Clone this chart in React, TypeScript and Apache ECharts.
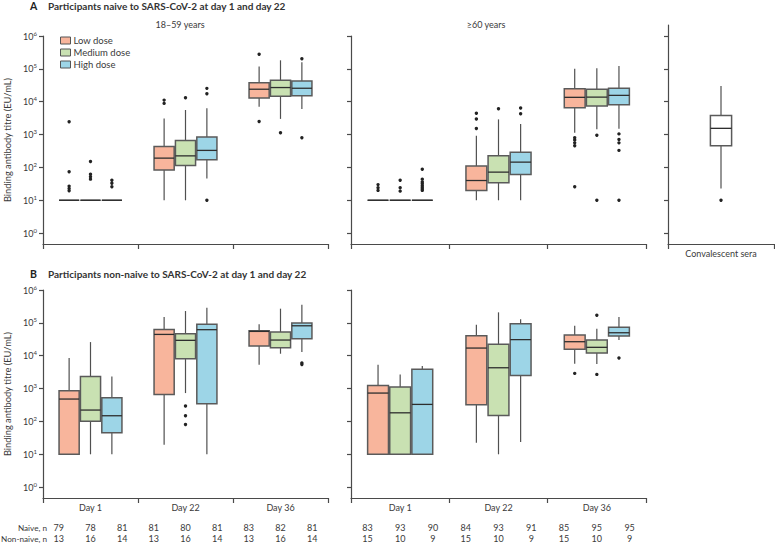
import React, { useEffect, useRef } from 'react';
import * as echarts from 'echarts';

const days = ['Day 1', 'Day 22', 'Day 36'];
const doses = ['Low dose', 'Medium dose', 'High dose'];
const doseColors = ['#F8B59C', '#C9E1B2', '#9DD5E7'];
const decadeTicks = [1, 10, 100, 1000, 10000, 100000, 1000000];

// [min, Q1, median, Q3, max] per day — naive, 18–59 years
const naiveYoungLow = [[10, 10, 10, 10, 10], [10, 83, 192, 437, 3100], [7000, 12900, 24000, 38000, 117000]];
const naiveYoungMedium = [[10, 10, 10, 10, 10], [10, 115, 225, 665, 5600], [3000, 14600, 27000, 45000, 182000]];
const naiveYoungHigh = [[10, 10, 10, 10, 10], [46, 170, 330, 840, 6300], [6000, 15200, 25700, 42500, 158000]];
const naiveYoungLowOut = [[2450, 74, 27, 23, 19.5], [11200, 8900], [277000, 2500]];
const naiveYoungMediumOut = [[152, 62, 52, 44], [13200], [1140]];
const naiveYoungHighOut = [[41, 33, 26], [25500, 17500, 10], [204000, 800]];

// naive, ≥60 years
const naiveOldLow = [[10, 10, 10, 10, 10], [10, 20, 40, 110, 920], [1140, 6600, 13600, 25000, 100000]];
const naiveOldMedium = [[10, 10, 10, 10, 10], [10, 34, 72, 225, 2900], [1440, 7400, 13800, 24000, 105000]];
const naiveOldHigh = [[10, 10, 10, 10, 10], [10, 61, 145, 288, 2090], [1500, 8100, 15600, 25700, 123000]];
const naiveOldLowOut = [[30, 24, 20], [4450, 2960, 1540], [800, 680, 560, 455, 26]];
const naiveOldMediumOut = [[41, 24, 19], [6100], [950, 10]];
const naiveOldHighOut = [[88, 44, 36, 32, 28, 25, 22, 20], [6400, 4300], [1050, 710, 560, 330, 10]];

// convalescent sera
const convalescentCategories = ['Convalescent sera'];
const convalescent = [[23, 455, 1550, 3830, 30000]];
const convalescentOut = [[10]];

// non-naive, 18–59 years
const nonNaiveYoungLow = [[10, 10, 480, 855, 8500], [19.5, 665, 44500, 63000, 150000], [5350, 19600, 55000, 57700, 90000]];
const nonNaiveYoungMedium = [[10, 102, 222, 2350, 26000], [730, 8100, 29400, 47000, 229000], [11500, 17500, 30000, 52600, 270000]];
const nonNaiveYoungHigh = [[10, 45, 149, 525, 2350], [10, 345, 62000, 90000, 290000], [13000, 33000, 81500, 99000, 357000]];
const nonNaiveYoungLowOut = [[], [], []];
const nonNaiveYoungMediumOut = [[], [295, 149, 81], []];
const nonNaiveYoungHighOut = [[], [], [6000, 5400]];

// non-naive, ≥60 years
const nonNaiveOldLow = [[10, 10, 730, 1250, 5300], [22.5, 324, 17100, 40700, 88000], [5700, 15600, 26700, 42700, 81500]];
const nonNaiveOldMedium = [[10, 10, 183, 1110, 2700], [10, 152, 4300, 22200, 209000], [5600, 12000, 18000, 30000, 66000]];
const nonNaiveOldHigh = [[10, 10, 330, 3900, 4850], [23.5, 2520, 30900, 94500, 128000], [30000, 39700, 50000, 73000, 150000]];
const nonNaiveOldLowOut = [[], [], [2900]];
const nonNaiveOldMediumOut = [[], [], [170000, 2700]];
const nonNaiveOldHighOut = [[], [], [8500]];

// participant counts under panel B
const youngNaiveN = [79, 78, 81, 81, 80, 81, 83, 82, 81];
const youngNonNaiveN = [13, 16, 14, 13, 16, 14, 13, 16, 14];
const oldNaiveN = [83, 93, 90, 84, 93, 91, 85, 95, 95];
const oldNonNaiveN = [15, 10, 9, 15, 10, 9, 15, 10, 9];

const FONT = 'Lato, "Noto Sans", sans-serif';
const AXIS_COLOR = '#4a4a4a';
const TEXT_COLOR = '#3a3a3a';

const panels = [
  { boxes: [naiveYoungLow, naiveYoungMedium, naiveYoungHigh], outs: [naiveYoungLowOut, naiveYoungMediumOut, naiveYoungHighOut] },
  { boxes: [naiveOldLow, naiveOldMedium, naiveOldHigh], outs: [naiveOldLowOut, naiveOldMediumOut, naiveOldHighOut] },
  null,
  { boxes: [nonNaiveYoungLow, nonNaiveYoungMedium, nonNaiveYoungHigh], outs: [nonNaiveYoungLowOut, nonNaiveYoungMediumOut, nonNaiveYoungHighOut] },
  { boxes: [nonNaiveOldLow, nonNaiveOldMedium, nonNaiveOldHigh], outs: [nonNaiveOldLowOut, nonNaiveOldMediumOut, nonNaiveOldHighOut] },
];

function makeBoxSeries(name: string, axisIdx: number, offsetFrac: number, widthFrac: number, fill: string, stats: number[][]) {
  return {
    type: 'custom',
    name,
    xAxisIndex: axisIdx,
    yAxisIndex: axisIdx,
    data: stats.map((s, i) => [i, ...s]),
    encode: { x: 0, y: [1, 2, 3, 4, 5] },
    itemStyle: { color: fill },
    z: 2,
    renderItem: (params: any, api: any) => {
      const cat = api.value(0);
      const band = api.size([1, 0], [cat, 10])[0];
      const cx = api.coord([cat, 10])[0] + offsetFrac * band;
      const w = widthFrac * band;
      const yMin = api.coord([cat, api.value(1)])[1];
      const yQ1 = api.coord([cat, api.value(2)])[1];
      const yMed = api.coord([cat, api.value(3)])[1];
      const yQ3 = api.coord([cat, api.value(4)])[1];
      const yMax = api.coord([cat, api.value(5)])[1];
      const whisker = { stroke: '#505050', lineWidth: 1.2 };
      return {
        type: 'group',
        children: [
          { type: 'line', shape: { x1: cx, y1: yMin, x2: cx, y2: yQ1 }, style: whisker },
          { type: 'line', shape: { x1: cx, y1: yQ3, x2: cx, y2: yMax }, style: whisker },
          {
            type: 'rect',
            shape: { x: cx - w / 2, y: yQ3, width: w, height: Math.max(yQ1 - yQ3, 0) },
            style: { fill, stroke: '#5a5a5a', lineWidth: 1.5 },
          },
          { type: 'line', shape: { x1: cx - w / 2, y1: yMed, x2: cx + w / 2, y2: yMed }, style: { stroke: '#2e2e2e', lineWidth: 1.3 } },
        ],
      };
    },
  };
}

function makeOutlierSeries(name: string, axisIdx: number, offsetFrac: number, outs: number[][]) {
  const data: number[][] = [];
  outs.forEach((vals, i) => vals.forEach((v) => data.push([i, v])));
  return {
    type: 'custom',
    name,
    xAxisIndex: axisIdx,
    yAxisIndex: axisIdx,
    data,
    encode: { x: 0, y: 1 },
    z: 3,
    renderItem: (params: any, api: any) => {
      const cat = api.value(0);
      const band = api.size([1, 0], [cat, 10])[0];
      const p = api.coord([cat, api.value(1)]);
      return { type: 'circle', shape: { cx: p[0] + offsetFrac * band, cy: p[1], r: 1.7 }, style: { fill: '#222' } };
    },
  };
}

export default function App() {
  const ref = useRef<HTMLDivElement>(null);

  useEffect(() => {
    if (!ref.current) return;
    const chart = echarts.init(ref.current, undefined, { renderer: 'svg' });

    const grids = [
      { left: 43, top: 36, width: 285, height: 208 },
      { left: 351, top: 36, width: 295, height: 208 },
      { left: 668, top: 25, width: 106, height: 219 },
      { left: 43, top: 290, width: 285, height: 208 },
      { left: 351, top: 290, width: 295, height: 208 },
    ];
    const yMin = Math.pow(10, -0.33);
    const yMaxMain = 1e6;
    const yMaxConv = Math.pow(10, 6.335);

    const axisLine = { show: true, lineStyle: { color: AXIS_COLOR, width: 1.2 } };
    const axisTickStyle = { show: true, inside: false, length: 4, lineStyle: { color: AXIS_COLOR, width: 1.2 } };

    const yAxes = grids.map((g, i) => ({
      type: 'log',
      logBase: 10,
      gridIndex: i,
      min: yMin,
      max: i === 2 ? yMaxConv : yMaxMain,
      axisLine,
      axisTick: { ...axisTickStyle, customValues: decadeTicks },
      splitLine: { show: false },
      axisLabel: {
        show: i === 0 || i === 3,
        customValues: decadeTicks,
        margin: 6,
        color: TEXT_COLOR,
        fontFamily: FONT,
        fontSize: 9,
        formatter: (v: number) => `10{s|${Math.round(Math.log10(v))}}`,
        rich: {
          s: { fontSize: 6, fontFamily: FONT, color: TEXT_COLOR, verticalAlign: 'top', padding: [0, 0, 6, 0] },
        },
      },
      name: i === 0 || i === 3 ? 'Binding antibody titre (EU/mL)' : '',
      nameLocation: 'middle',
      nameGap: 31,
      nameTextStyle: { fontFamily: FONT, fontSize: 9.3, color: TEXT_COLOR },
    }));

    const catLabel = { color: TEXT_COLOR, fontFamily: FONT, fontSize: 9 };
    const xAxes: any[] = grids.map((g, i) => ({
      type: 'category',
      gridIndex: i,
      position: 'bottom',
      data: i === 2 ? convalescentCategories : days,
      boundaryGap: true,
      axisLine,
      axisTick: { ...axisTickStyle, length: 5, alignWithLabel: false, interval: 0 },
      axisLabel: { show: i >= 2, margin: 5, interval: 0, ...catLabel },
      splitLine: { show: false },
    }));
    const countAxis = (gridIndex: number, naive: number[], nonNaive: number[]) => ({
      type: 'category',
      gridIndex,
      position: 'bottom',
      data: naive.map((_, i) => String(i)),
      boundaryGap: true,
      axisLine: { show: false },
      axisTick: { show: false },
      splitLine: { show: false },
      axisLabel: {
        show: true,
        interval: 0,
        margin: 24,
        lineHeight: 11,
        ...catLabel,
        formatter: (v: string, idx: number) => `${naive[idx]}\n${nonNaive[idx]}`,
      },
    });
    xAxes.push(countAxis(3, youngNaiveN, youngNonNaiveN));
    xAxes.push(countAxis(4, oldNaiveN, oldNonNaiveN));

    const series: any[] = [];
    const offsetFrac = 0.225;
    const widthFrac = 0.212;
    panels.forEach((p, axisIdx) => {
      if (!p) return;
      doses.forEach((dose, d) => {
        series.push(makeBoxSeries(dose, axisIdx, (d - 1) * offsetFrac, widthFrac, doseColors[d], p.boxes[d]));
        series.push(makeOutlierSeries(dose, axisIdx, (d - 1) * offsetFrac, p.outs[d]));
      });
    });
    series.push(makeBoxSeries('Convalescent sera', 2, 0, 0.2, '#ffffff', convalescent));
    series.push(makeOutlierSeries('Convalescent sera', 2, 0, convalescentOut));

    const txt = (text: string, x: number, y: number, opts: any = {}) => ({
      type: 'text',
      x,
      y,
      silent: true,
      style: {
        text,
        fill: opts.fill || TEXT_COLOR,
        fontFamily: FONT,
        fontSize: opts.fontSize || 9,
        fontWeight: opts.fontWeight || 'normal',
        align: opts.align || 'left',
        textAlign: opts.align || 'left',
        verticalAlign: 'middle',
        textVerticalAlign: 'middle',
      },
    });

    chart.setOption({
      animation: false,
      backgroundColor: '#ffffff',
      textStyle: { fontFamily: FONT },
      grid: grids.map((g) => ({ ...g, containLabel: false })),
      xAxis: xAxes,
      yAxis: yAxes,
      legend: {
        left: 55,
        top: 30,
        orient: 'vertical',
        icon: 'rect',
        itemWidth: 10,
        itemHeight: 7,
        itemGap: 1,
        selectedMode: false,
        textStyle: { fontFamily: FONT, fontSize: 9.5, color: TEXT_COLOR, lineHeight: 11, padding: [0, 0, 0, -2] },
        data: doses.map((d, i) => ({ name: d, itemStyle: { color: doseColors[i], borderColor: '#555', borderWidth: 1 } })),
      },
      graphic: [
        txt('A', 30, 6, { fontSize: 10.5, fontWeight: 'bold', fill: '#222' }),
        txt('Participants naive to SARS-CoV-2 at day 1 and day 22', 48, 6, { fontSize: 10, fontWeight: 'bold', fill: '#333' }),
        txt('18–59 years', 180, 24, { align: 'center' }),
        txt('≥60 years', 486, 24, { align: 'center' }),
        txt('B', 30, 274, { fontSize: 10.5, fontWeight: 'bold', fill: '#222' }),
        txt('Participants non-naive to SARS-CoV-2 at day 1 and day 22', 48, 274, { fontSize: 10, fontWeight: 'bold', fill: '#333' }),
        txt('Naive, n', 47, 528, { align: 'right', fontSize: 8.2 }),
        txt('Non-naive, n', 47, 539, { align: 'right', fontSize: 8.2 }),
      ],
      series,
    });

    return () => chart.dispose();
  }, []);

  return <div ref={ref} style={{ position: 'fixed', left: 0, top: 0, width: 775, height: 545, background: '#fff' }} />;
}
